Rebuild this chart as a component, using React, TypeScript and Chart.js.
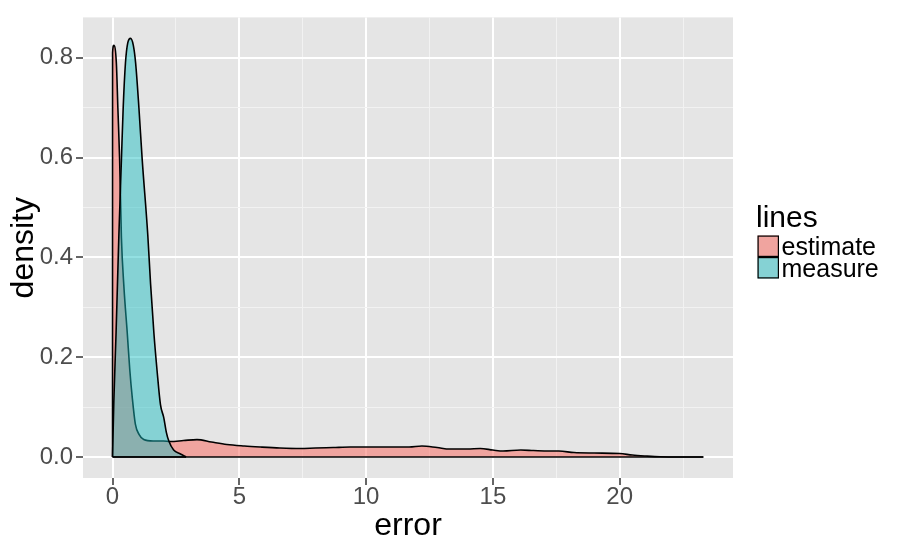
import React, { useEffect, useRef } from "react";
import { Chart, registerables } from "chart.js";

Chart.register(...registerables);

// ---- data ----
const estimateX = [0, 0.002, 0.05, 0.15, 0.21, 0.28, 0.35, 0.45, 0.58, 0.68, 0.78, 0.9, 1.05, 1.23, 1.6, 2.0, 2.28, 2.8, 3.33, 3.9, 4.51, 5.2, 5.83, 6.6, 7.4, 8.0, 8.7, 9.37, 10.5, 11.7, 12.2, 12.8, 13.3, 14.0, 14.5, 15.0, 15.4, 16.1, 16.6, 17.2, 17.6, 18.2, 19.0, 20.0, 20.5, 21.05, 21.6, 22.3, 23.3];
const estimateY = [0, 0.81, 0.825, 0.79, 0.70, 0.596, 0.44, 0.34, 0.249, 0.175, 0.118, 0.066, 0.045, 0.035, 0.032, 0.032, 0.031, 0.033, 0.035, 0.030, 0.025, 0.022, 0.020, 0.018, 0.017, 0.018, 0.019, 0.020, 0.020, 0.020, 0.022, 0.019, 0.016, 0.016, 0.017, 0.014, 0.012, 0.014, 0.013, 0.012, 0.012, 0.009, 0.008, 0.007, 0.004, 0.002, 0.0005, 0, 0];

const measureX = [0, 0.05, 0.14, 0.25, 0.35, 0.42, 0.51, 0.6, 0.71, 0.82, 0.91, 1.04, 1.17, 1.39, 1.5, 1.63, 1.76, 1.89, 2.02, 2.12, 2.22, 2.41, 2.68, 2.9];
const measureY = [0, 0.11, 0.25, 0.445, 0.596, 0.70, 0.79, 0.83, 0.839, 0.825, 0.79, 0.70, 0.596, 0.445, 0.347, 0.249, 0.171, 0.105, 0.079, 0.05, 0.032, 0.014, 0.006, 0];

const seriesNames = ["estimate", "measure"];
const xTicks = [0, 2.5, 5, 7.5, 10, 12.5, 15, 17.5, 20, 22.5];
const yTicks = [0, 0.1, 0.2, 0.3, 0.4, 0.5, 0.6, 0.7, 0.8];
const xLabelEvery = 5;
const yLabelEvery = 0.2;

const RED_FILL = "rgba(248,118,109,0.58)";
const TEAL_FILL = "rgba(25,190,193,0.47)";
const PANEL_BG = "#E5E5E5";
const FONT = "'Liberation Sans', Arial, Helvetica, sans-serif";

const isMult = (v: number, step: number) => Math.abs(v / step - Math.round(v / step)) < 1e-6;

export default function App() {
  const ref = useRef<HTMLCanvasElement | null>(null);

  useEffect(() => {
    if (!ref.current) return;
    const toPts = (xs: number[], ys: number[]) => xs.map((x, i) => ({ x, y: ys[i] }));

    const decor = {
      id: "decor",
      beforeDraw(chart: any) {
        const { ctx, chartArea: a } = chart;
        ctx.save();
        ctx.fillStyle = PANEL_BG;
        ctx.fillRect(a.left, a.top, a.right - a.left, a.bottom - a.top);
        ctx.restore();
      },
      afterDraw(chart: any) {
        const { ctx, chartArea: a } = chart;
        const xs = chart.scales.x;
        const ys = chart.scales.y;
        ctx.save();
        // baselines of the density outlines
        const y0 = ys.getPixelForValue(0);
        ctx.strokeStyle = "#000";
        ctx.lineWidth = 1.6;
        [estimateX, measureX].forEach((arr) => {
          ctx.beginPath();
          ctx.moveTo(xs.getPixelForValue(arr[0]), y0);
          ctx.lineTo(xs.getPixelForValue(arr[arr.length - 1]), y0);
          ctx.stroke();
        });
        // axis titles
        ctx.fillStyle = "#000";
        ctx.font = `32px ${FONT}`;
        ctx.textAlign = "center";
        ctx.textBaseline = "alphabetic";
        ctx.fillText("error", (a.left + a.right) / 2, 535);
        ctx.save();
        ctx.translate(33, (a.top + a.bottom) / 2);
        ctx.rotate(-Math.PI / 2);
        ctx.fillText("density", 0, 0);
        ctx.restore();
        // legend
        ctx.textAlign = "left";
        ctx.font = `30px ${FONT}`;
        ctx.fillText("lines", a.right + 23, 227);
        const fills = [RED_FILL, TEAL_FILL];
        const keyX = a.right + 24.5;
        const keyTop = 235.5;
        const keyH = 21.5;
        ctx.font = `25px ${FONT}`;
        seriesNames.forEach((name, i) => {
          const ky = keyTop + i * keyH;
          ctx.fillStyle = PANEL_BG;
          ctx.fillRect(keyX, ky, 21.5, keyH);
          ctx.fillStyle = fills[i];
          ctx.fillRect(keyX, ky, 21.5, keyH);
          ctx.strokeStyle = "#000";
          ctx.lineWidth = 1.2;
          ctx.strokeRect(keyX + 0.6, ky + 0.6, 20.3, keyH - 1.2);
          ctx.fillStyle = "#000";
          ctx.fillText(name, keyX + 24, ky + 19.5);
        });
        ctx.restore();
      },
    };

    const gridColor = (c: any, step: number) => (isMult(c.tick.value, step) ? "#FFFFFF" : "#F2F2F2");
    const gridWidth = (c: any, step: number) => (isMult(c.tick.value, step) ? 2 : 1);
    const tickColor = (c: any, step: number) => (isMult(c.tick.value, step) ? "#333333" : "rgba(0,0,0,0)");

    const chart = new Chart(ref.current, {
      type: "line",
      data: {
        datasets: [
          {
            label: seriesNames[0],
            data: toPts(estimateX, estimateY),
            borderColor: "#000",
            borderWidth: 1.6,
            backgroundColor: RED_FILL,
            fill: "origin",
            pointRadius: 0,
            cubicInterpolationMode: "monotone",
            order: 2,
          },
          {
            label: seriesNames[1],
            data: toPts(measureX, measureY),
            borderColor: "#000",
            borderWidth: 1.6,
            backgroundColor: TEAL_FILL,
            fill: "origin",
            pointRadius: 0,
            cubicInterpolationMode: "monotone",
            order: 1,
          },
        ],
      },
      options: {
        responsive: false,
        animation: false,
        devicePixelRatio: 1,
        layout: { padding: { left: 0, top: 7, right: 164, bottom: 0 } },
        plugins: { legend: { display: false }, tooltip: { enabled: false } },
        scales: {
          x: {
            type: "linear",
            min: -1.165,
            max: 24.47,
            afterFit: (s: any) => {
              s.height = 62;
            },
            afterBuildTicks: (s: any) => {
              s.ticks = xTicks.map((v) => ({ value: v }));
            },
            ticks: {
              autoSkip: false,
              maxRotation: 0,
              color: "#4D4D4D",
              font: { family: FONT, size: 24 },
              padding: -2,
              callback: (v: any) => (isMult(Number(v), xLabelEvery) ? String(v) : ""),
            },
            grid: {
              color: (c: any) => gridColor(c, xLabelEvery),
              lineWidth: (c: any) => gridWidth(c, xLabelEvery),
              tickColor: (c: any) => tickColor(c, xLabelEvery),
              tickLength: 7,
              tickWidth: 1.5,
            },
            border: { display: false },
          },
          y: {
            type: "linear",
            min: -0.042,
            max: 0.881,
            afterFit: (s: any) => {
              s.width = 83;
            },
            afterBuildTicks: (s: any) => {
              s.ticks = yTicks.map((v) => ({ value: v }));
            },
            ticks: {
              autoSkip: false,
              color: "#4D4D4D",
              font: { family: FONT, size: 24 },
              padding: 3,
              callback: (v: any) => (isMult(Number(v), yLabelEvery) ? Number(v).toFixed(1) : ""),
            },
            grid: {
              color: (c: any) => gridColor(c, yLabelEvery),
              lineWidth: (c: any) => gridWidth(c, yLabelEvery),
              tickColor: (c: any) => tickColor(c, yLabelEvery),
              tickLength: 7,
              tickWidth: 1.5,
            },
            border: { display: false },
          },
        },
      },
      plugins: [decor],
    } as any);

    return () => chart.destroy();
  }, []);

  return (
    <div style={{ position: "absolute", left: 0, top: 0, width: 897, height: 540, background: "#fff" }}>
      <canvas ref={ref} width={897} height={540} style={{ width: 897, height: 540, display: "block" }} />
    </div>
  );
}
